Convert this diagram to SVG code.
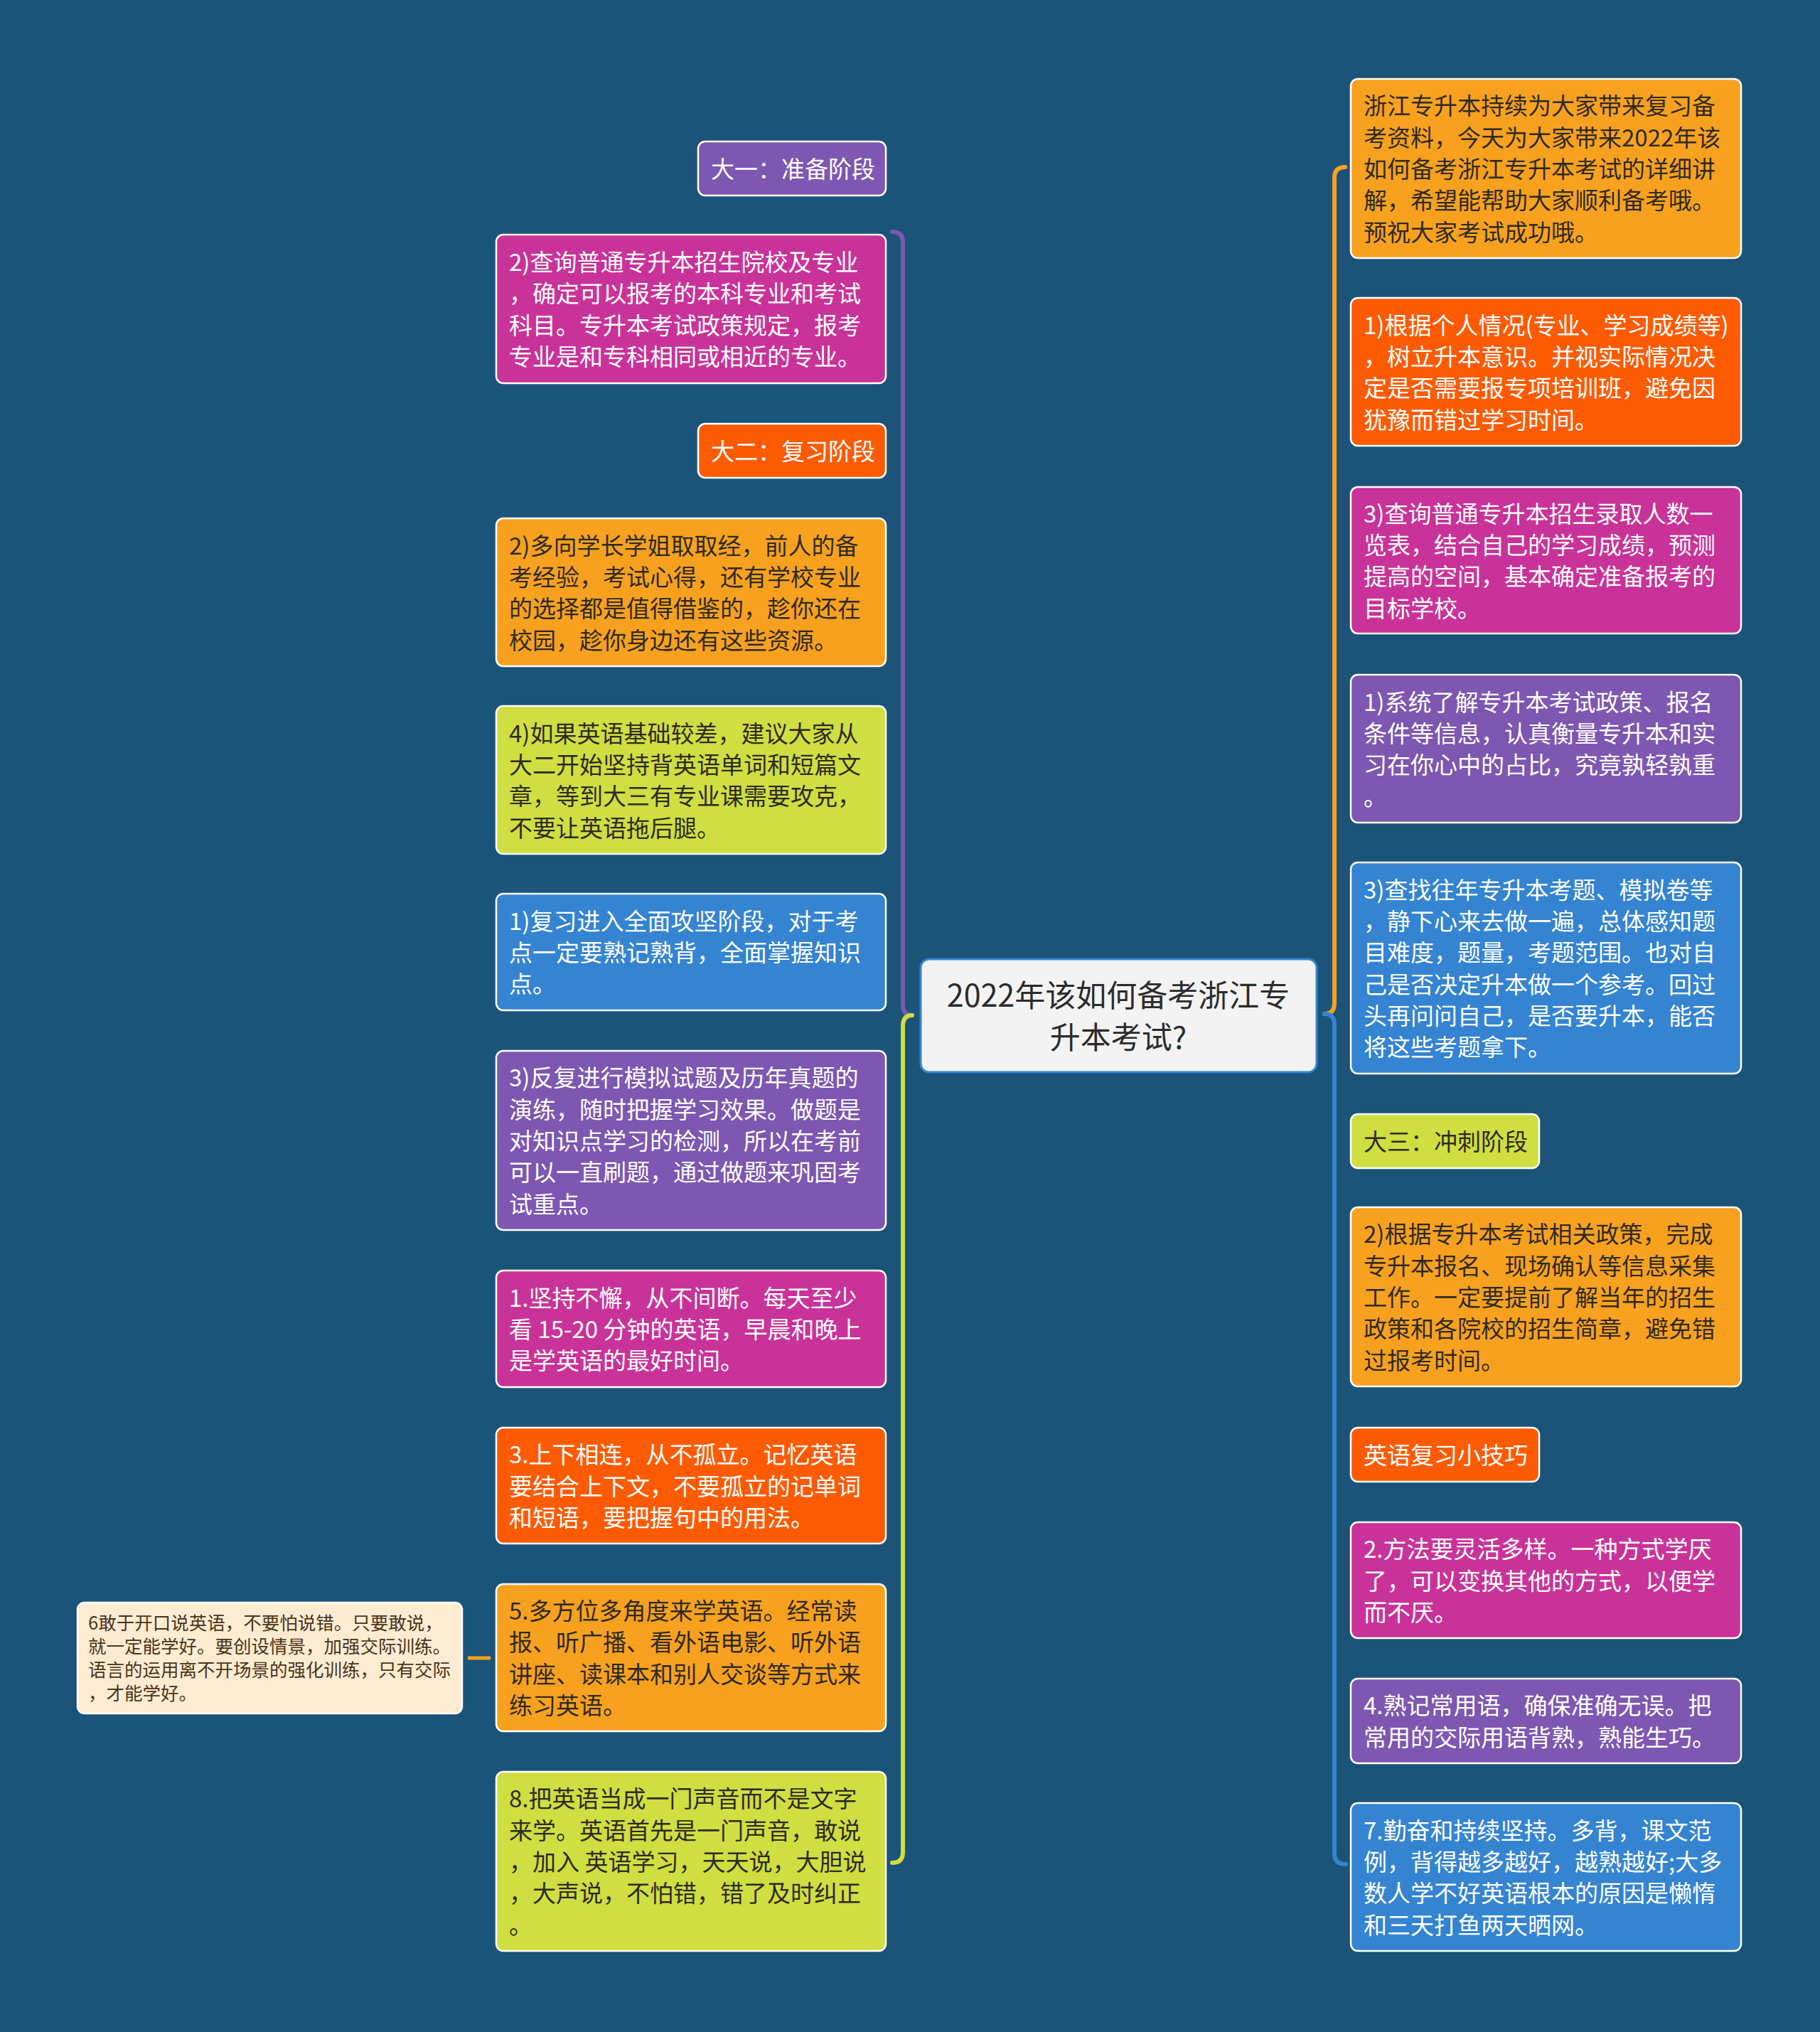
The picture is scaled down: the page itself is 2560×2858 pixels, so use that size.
<svg xmlns="http://www.w3.org/2000/svg" width="2560" height="2858" viewBox="0 0 2560 2858">
<style>
.n{stroke:#ffffff;stroke-width:2.5}
.t{font-family:"Noto Sans CJK SC","Noto Sans",sans-serif;font-size:33px}
.w{fill:#ffffff}
.d{fill:#2e2a22}
.c{fill:none;stroke-width:6;stroke-linecap:round}
.purple{fill:#7d57b1}
.mag{fill:#c93399}
.amber{fill:#f8a11f}
.red{fill:#fd5b03}
.lime{fill:#cfde40}
.blue{fill:#3484d1}
</style>
<rect width="2560" height="2858" fill="#1b5478"/>
<g id="connectors">
<path class="c" stroke="#7d57b1" d="M1255,326 Q1270,326 1270,341 L1270,1413 Q1270,1428 1283,1428"/>
<path class="c" stroke="#cfde40" d="M1283,1428 Q1270,1428 1270,1443 L1270,2605 Q1270,2620 1255,2620"/>
<path class="c" stroke="#f8a11f" d="M1892,235 Q1877,235 1877,250 L1877,1411 Q1877,1426 1863,1426"/>
<path class="c" stroke="#3484d1" d="M1863,1426 Q1877,1426 1877,1441 L1877,2607 Q1877,2622 1893,2622"/>
<path fill="none" stroke="#f8a11f" stroke-width="5" d="M658,2332 L690,2332"/>
</g>
<g id="center">
<rect x="1295" y="1349" width="557" height="159" rx="12" fill="#f3f3f3" stroke="#3484d1" stroke-width="3"/>
<text x="1573" y="1416" text-anchor="middle" font-family="'Noto Sans CJK SC','Noto Sans',sans-serif" font-size="43" fill="#2b2b2b">2022年该如何备考浙江专</text>
<text x="1573" y="1475" text-anchor="middle" font-family="'Noto Sans CJK SC','Noto Sans',sans-serif" font-size="43" fill="#2b2b2b">升本考试?</text>
</g>
<g id="L1"><rect class="n purple" x="982" y="199" width="264" height="76" rx="10"/><text class="t w" x="1000" y="250">大一：准备阶段</text></g>
<g id="L2"><rect class="n mag" x="698" y="330" width="548" height="209" rx="10"/><text class="t w"><tspan x="716" y="381">2)查询普通专升本招生院校及专业</tspan><tspan x="716" y="425.4">，确定可以报考的本科专业和考试</tspan><tspan x="716" y="469.7">科目。专升本考试政策规定，报考</tspan><tspan x="716" y="514">专业是和专科相同或相近的专业。</tspan></text></g>
<g id="L3"><rect class="n red" x="982" y="596" width="264" height="76" rx="10"/><text class="t w" x="1000" y="647">大二：复习阶段</text></g>
<g id="L4"><rect class="n amber" x="698" y="729" width="548" height="208" rx="10"/><text class="t d"><tspan x="716" y="779.5">2)多向学长学姐取取经，前人的备</tspan><tspan x="716" y="823.9">考经验，考试心得，还有学校专业</tspan><tspan x="716" y="868.2">的选择都是值得借鉴的，趁你还在</tspan><tspan x="716" y="912.5">校园，趁你身边还有这些资源。</tspan></text></g>
<g id="L5"><rect class="n lime" x="698" y="993" width="548" height="208" rx="10"/><text class="t d"><tspan x="716" y="1043.5">4)如果英语基础较差，建议大家从</tspan><tspan x="716" y="1087.9">大二开始坚持背英语单词和短篇文</tspan><tspan x="716" y="1132.2">章，等到大三有专业课需要攻克，</tspan><tspan x="716" y="1176.5">不要让英语拖后腿。</tspan></text></g>
<g id="L6"><rect class="n blue" x="698" y="1257" width="548" height="164" rx="10"/><text class="t w"><tspan x="716" y="1307.7">1)复习进入全面攻坚阶段，对于考</tspan><tspan x="716" y="1352">点一定要熟记熟背，全面掌握知识</tspan><tspan x="716" y="1396.3">点。</tspan></text></g>
<g id="L7"><rect class="n purple" x="698" y="1478" width="548" height="252" rx="10"/><text class="t w"><tspan x="716" y="1528.4">3)反复进行模拟试题及历年真题的</tspan><tspan x="716" y="1572.7">演练，随时把握学习效果。做题是</tspan><tspan x="716" y="1617">对知识点学习的检测，所以在考前</tspan><tspan x="716" y="1661.3">可以一直刷题，通过做题来巩固考</tspan><tspan x="716" y="1705.6">试重点。</tspan></text></g>
<g id="L8"><rect class="n mag" x="698" y="1787" width="548" height="164" rx="10"/><text class="t w"><tspan x="716" y="1837.7">1.坚持不懈，从不间断。每天至少</tspan><tspan x="716" y="1882">看 15-20 分钟的英语，早晨和晚上</tspan><tspan x="716" y="1926.3">是学英语的最好时间。</tspan></text></g>
<g id="L9"><rect class="n red" x="698" y="2008" width="548" height="163" rx="10"/><text class="t w"><tspan x="716" y="2058.2">3.上下相连，从不孤立。记忆英语</tspan><tspan x="716" y="2102.5">要结合上下文，不要孤立的记单词</tspan><tspan x="716" y="2146.8">和短语，要把握句中的用法。</tspan></text></g>
<g id="L10"><rect class="n amber" x="698" y="2228" width="548" height="207" rx="10"/><text class="t d"><tspan x="716" y="2278">5.多方位多角度来学英语。经常读</tspan><tspan x="716" y="2322.4">报、听广播、看外语电影、听外语</tspan><tspan x="716" y="2366.7">讲座、读课本和别人交谈等方式来</tspan><tspan x="716" y="2411">练习英语。</tspan></text></g>
<g id="L11"><rect class="n lime" x="698" y="2492" width="548" height="252" rx="10"/><text class="t d"><tspan x="716" y="2542.4">8.把英语当成一门声音而不是文字</tspan><tspan x="716" y="2586.7">来学。英语首先是一门声音，敢说</tspan><tspan x="716" y="2631">，加入 英语学习，天天说，大胆说</tspan><tspan x="716" y="2675.3">，大声说，不怕错，错了及时纠正</tspan><tspan x="716" y="2719.6">。</tspan></text></g>
<g id="L12"><rect class="n" fill="#feecd2" x="109" y="2254" width="541" height="156" rx="10"/><text font-family="'Noto Sans CJK SC','Noto Sans',sans-serif" font-size="25.5" fill="#4a3318"><tspan x="124" y="2292">6敢于开口说英语，不要怕说错。只要敢说，</tspan><tspan x="124" y="2325">就一定能学好。要创设情景，加强交际训练。</tspan><tspan x="124" y="2358">语言的运用离不开场景的强化训练，只有交际</tspan><tspan x="124" y="2391">，才能学好。</tspan></text></g>
<g id="R1"><rect class="n amber" x="1900" y="111" width="549" height="252" rx="10"/><text class="t d"><tspan x="1918" y="161.4">浙江专升本持续为大家带来复习备</tspan><tspan x="1918" y="205.7">考资料，今天为大家带来2022年该</tspan><tspan x="1918" y="250">如何备考浙江专升本考试的详细讲</tspan><tspan x="1918" y="294.3">解，希望能帮助大家顺利备考哦。</tspan><tspan x="1918" y="338.6">预祝大家考试成功哦。</tspan></text></g>
<g id="R2"><rect class="n red" x="1900" y="419" width="549" height="208" rx="10"/><text class="t w"><tspan x="1918" y="469.5">1)根据个人情况(专业、学习成绩等)</tspan><tspan x="1918" y="513.9">，树立升本意识。并视实际情况决</tspan><tspan x="1918" y="558.2">定是否需要报专项培训班，避免因</tspan><tspan x="1918" y="602.5">犹豫而错过学习时间。</tspan></text></g>
<g id="R3"><rect class="n mag" x="1900" y="685" width="549" height="206" rx="10"/><text class="t w"><tspan x="1918" y="734.5">3)查询普通专升本招生录取人数一</tspan><tspan x="1918" y="778.9">览表，结合自己的学习成绩，预测</tspan><tspan x="1918" y="823.2">提高的空间，基本确定准备报考的</tspan><tspan x="1918" y="867.5">目标学校。</tspan></text></g>
<g id="R4"><rect class="n purple" x="1900" y="949" width="549" height="208" rx="10"/><text class="t w"><tspan x="1918" y="999.5">1)系统了解专升本考试政策、报名</tspan><tspan x="1918" y="1043.9">条件等信息，认真衡量专升本和实</tspan><tspan x="1918" y="1088.2">习在你心中的占比，究竟孰轻孰重</tspan><tspan x="1918" y="1132.5">。</tspan></text></g>
<g id="R5"><rect class="n blue" x="1900" y="1213" width="549" height="297" rx="10"/><text class="t w"><tspan x="1918" y="1263.8">3)查找往年专升本考题、模拟卷等</tspan><tspan x="1918" y="1308">，静下心来去做一遍，总体感知题</tspan><tspan x="1918" y="1352.4">目难度，题量，考题范围。也对自</tspan><tspan x="1918" y="1396.7">己是否决定升本做一个参考。回过</tspan><tspan x="1918" y="1441">头再问问自己，是否要升本，能否</tspan><tspan x="1918" y="1485.3">将这些考题拿下。</tspan></text></g>
<g id="R6"><rect class="n lime" x="1900" y="1567" width="265" height="76" rx="10"/><text class="t d" x="1918" y="1618">大三：冲刺阶段</text></g>
<g id="R7"><rect class="n amber" x="1900" y="1698" width="549" height="252" rx="10"/><text class="t d"><tspan x="1918" y="1748.4">2)根据专升本考试相关政策，完成</tspan><tspan x="1918" y="1792.7">专升本报名、现场确认等信息采集</tspan><tspan x="1918" y="1837">工作。一定要提前了解当年的招生</tspan><tspan x="1918" y="1881.3">政策和各院校的招生简章，避免错</tspan><tspan x="1918" y="1925.6">过报考时间。</tspan></text></g>
<g id="R8"><rect class="n red" x="1900" y="2008" width="265" height="76" rx="10"/><text class="t w" x="1918" y="2059">英语复习小技巧</text></g>
<g id="R9"><rect class="n mag" x="1900" y="2141" width="549" height="163" rx="10"/><text class="t w"><tspan x="1918" y="2191.2">2.方法要灵活多样。一种方式学厌</tspan><tspan x="1918" y="2235.5">了，可以变换其他的方式，以便学</tspan><tspan x="1918" y="2279.8">而不厌。</tspan></text></g>
<g id="R10"><rect class="n purple" x="1900" y="2361" width="549" height="119" rx="10"/><text class="t w"><tspan x="1918" y="2411.3">4.熟记常用语，确保准确无误。把</tspan><tspan x="1918" y="2455.7">常用的交际用语背熟，熟能生巧。</tspan></text></g>
<g id="R11"><rect class="n blue" x="1900" y="2536" width="549" height="208" rx="10"/><text class="t w"><tspan x="1918" y="2586.5">7.勤奋和持续坚持。多背，课文范</tspan><tspan x="1918" y="2630.9">例，背得越多越好，越熟越好;大多</tspan><tspan x="1918" y="2675.2">数人学不好英语根本的原因是懒惰</tspan><tspan x="1918" y="2719.5">和三天打鱼两天晒网。</tspan></text></g>
</svg>
